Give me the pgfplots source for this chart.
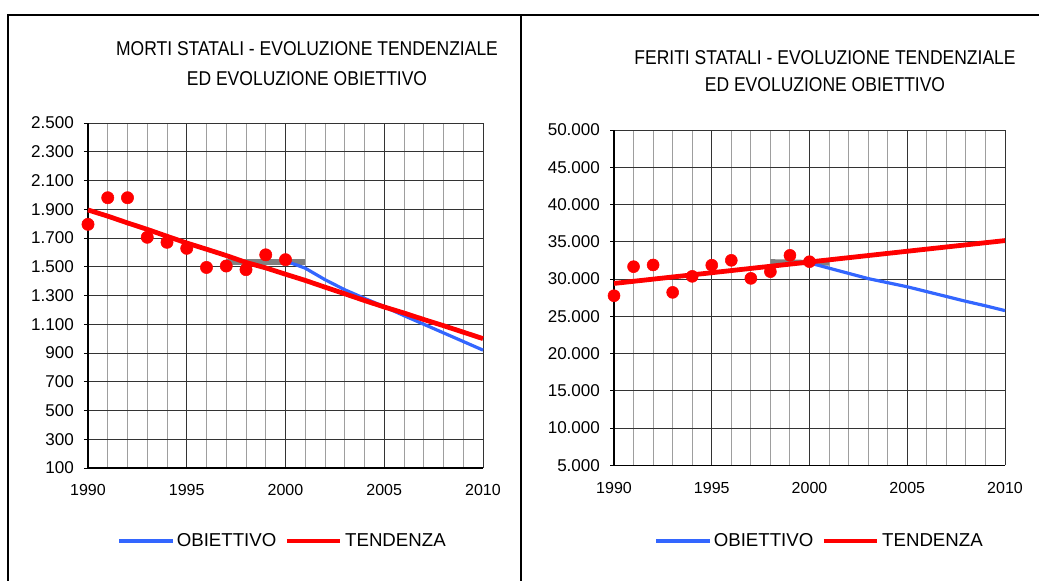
\documentclass[border=0pt]{standalone}
\usepackage{pgfplots}
\pgfplotsset{compat=1.18}
\usepackage{fontspec}
\setmainfont{Liberation Sans}
\usepackage{graphicx}
\definecolor{obblue}{RGB}{51,102,255}
\definecolor{trred}{RGB}{255,0,0}
\definecolor{bargray}{RGB}{128,128,128}
\begin{document}
\begin{tikzpicture}
\path[use as bounding box] (0,0) rectangle (779.25pt,435.75pt);
\pgfplotsset{
  myaxis/.style={
    scale only axis,
    xmin=1990, xmax=2010,
    xtick={1990,1995,2000,2005,2010},
    xticklabels={1990,1995,2000,2005,2010},
    minor x tick num=4,
    axis x line*=bottom, axis y line*=left,
    axis line style={black, line width=0.8pt},
    xmajorgrids, xminorgrids, ymajorgrids,
    major grid style={draw=black!80, line width=0.6pt},
    minor grid style={draw=black!38, line width=0.7pt},
    tick align=outside,
    major tick length=3pt,
    minor tick length=0pt,
    xtick style={draw=none},
    ytick style={black, line width=0.6pt},
    scaled y ticks=false,
    /pgf/number format/fixed,
    /pgf/number format/1000 sep={.},
    /pgf/number format/assume math mode=true,
    yticklabel style={font=\fontsize{12.8}{15}\selectfont, xshift=-4pt},
    xticklabel style={font=\fontsize{12}{14}\selectfont, yshift=-6pt},
    legend style={draw=none, fill=none, legend columns=2,
      anchor=center, font=\fontsize{14}{16}\selectfont,
      /tikz/every even column/.append style={column sep=4pt}},
    legend image code/.code={\draw[##1] (0pt,0pt) -- (40pt,0pt);},
    clip=false,
  }
}
% ---------------- LEFT: MORTI ----------------
\begin{axis}[myaxis,
  at={(66pt,84.75pt)}, anchor=south west,
  width=296.25pt, height=258.75pt,
  ymin=100, ymax=2500,
  ytick={100,300,500,700,900,1100,1300,1500,1700,1900,2100,2300,2500},
  legend style={at={(0.4937,-0.2116)}},
]
\addplot[bargray, line width=4.5pt, forget plot] coordinates {(1997,1535) (2001,1535)};
\addplot[only marks, mark=*, mark size=4.6pt, color=trred, forget plot] coordinates {
(1990,1795) (1991,1980) (1992,1980) (1993,1705) (1994,1670) (1995,1628)
(1996,1495) (1997,1505) (1998,1480) (1999,1583) (2000,1549)};
\addplot[obblue, line width=2.4pt] coordinates {
(2000,1540) (2001,1490) (2002,1410) (2003,1340) (2004,1280) (2005,1222)
(2006,1160) (2007,1100) (2008,1040) (2009,980) (2010,920)};
\addlegendentry{OBIETTIVO}
\addplot[trred, line width=3.6pt] coordinates {
(1990,1895) (1991,1852) (1992,1805) (1993,1760) (1994,1712) (1995,1665)
(1996,1622) (1997,1578) (1998,1530) (1999,1492) (2000,1448) (2001,1405)
(2002,1358) (2003,1312) (2004,1265) (2005,1220) (2006,1178) (2007,1133)
(2008,1090) (2009,1045) (2010,1000)};
\addlegendentry{TENDENZA}
\end{axis}
% ---------------- RIGHT: FERITI ----------------
\begin{axis}[myaxis,
  at={(460.5pt,86.8pt)}, anchor=south west,
  width=293.25pt, height=251.5pt,
  ymin=5000, ymax=50000,
  ytick={5000,10000,15000,20000,25000,30000,35000,40000,45000,50000},
  legend style={at={(0.5269,-0.2258)}},
]
\addplot[bargray, line width=4pt, forget plot] coordinates {(1998,32300) (2001,32150)};
\addplot[only marks, mark=*, mark size=4.5pt, color=trred, forget plot] coordinates {
(1990,27750) (1991,31650) (1992,31880) (1993,28200) (1994,30350) (1995,31850)
(1996,32500) (1997,30080) (1998,30980) (1999,33170) (2000,32320)};
\addplot[obblue, line width=2.4pt] coordinates {
(2000,32150) (2001,31450) (2002,30750) (2003,30050) (2004,29500) (2005,28950)
(2006,28300) (2007,27650) (2008,27000) (2009,26400) (2010,25750)};
\addlegendentry{OBIETTIVO}
\addplot[trred, line width=3.6pt] coordinates {
(1990,29400) (1995,30840) (2000,32280) (2005,33720) (2010,35150)};
\addlegendentry{TENDENZA}
\end{axis}
% ---------------- titles ----------------
\node[font=\fontsize{15}{18}\selectfont] at (230.25pt,399pt) {\scalebox{0.875}[1]{MORTI STATALI - EVOLUZIONE TENDENZIALE}};
\node[font=\fontsize{15}{18}\selectfont] at (230.25pt,376.5pt) {\scalebox{0.875}[1]{ED EVOLUZIONE OBIETTIVO}};
\node[font=\fontsize{15}{18}\selectfont] at (618.75pt,392.6pt) {\scalebox{0.875}[1]{FERITI STATALI - EVOLUZIONE TENDENZIALE}};
\node[font=\fontsize{15}{18}\selectfont] at (618.75pt,372.4pt) {\scalebox{0.875}[1]{ED EVOLUZIONE OBIETTIVO}};
% ---------------- frame ----------------
\draw[line width=1.5pt] (6pt,-2pt) -- (6pt,424.5pt) -- (782pt,424.5pt);
\draw[line width=1.5pt] (390.75pt,-2pt) -- (390.75pt,424.5pt);
\end{tikzpicture}
\end{document}
